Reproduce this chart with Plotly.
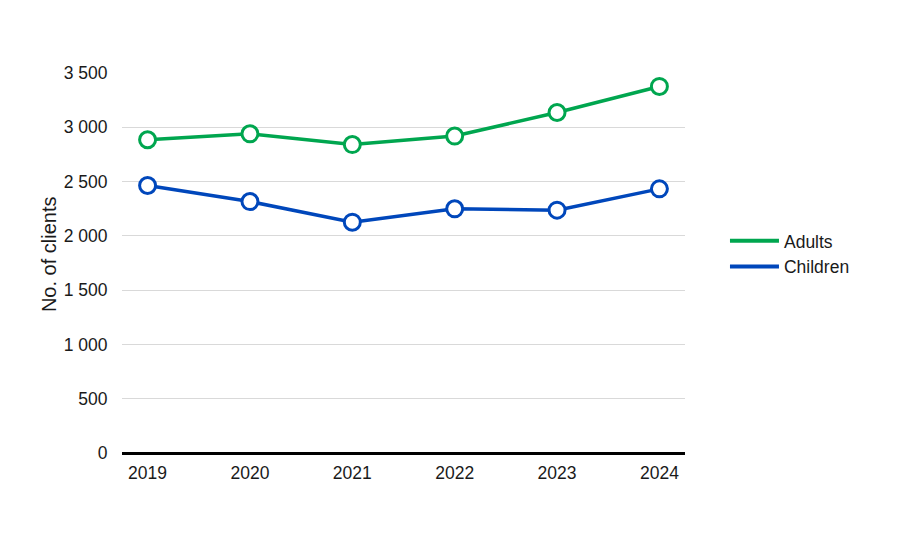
import plotly.graph_objects as go

years = ["2019", "2020", "2021", "2022", "2023", "2024"]
adults = [2885, 2940, 2841, 2919, 3136, 3376]
children = [2464, 2316, 2126, 2249, 2237, 2433]
y_ticks = [0, 500, 1000, 1500, 2000, 2500, 3000, 3500]

GREEN = "#00a64f"
BLUE = "#0047bb"
FONT = "Liberation Sans, Arial, sans-serif"
TXT = "#1a1a1a"

fig = go.Figure()
for name, vals, col in [("Adults", adults, GREEN), ("Children", children, BLUE)]:
    fig.add_trace(go.Scatter(
        x=years, y=vals, name=name, mode="lines+markers", showlegend=False,
        line=dict(color=col, width=3.5),
        marker=dict(symbol="circle", size=16, color="white", line=dict(color=col, width=3)),
    ))
    # legend entry drawn as a plain line
    fig.add_trace(go.Scatter(
        x=[None], y=[None], name=name, mode="lines",
        line=dict(color=col, width=4), showlegend=True,
    ))

fig.update_layout(
    width=920, height=536,
    margin=dict(l=114, r=243, t=65, b=91),
    paper_bgcolor="white", plot_bgcolor="white",
    font=dict(family=FONT, size=17.5, color=TXT),
    separators=". ",
    showlegend=True,
    legend=dict(x=1.071, y=0.524, xanchor="left", yanchor="middle",
                font=dict(size=17.5, color=TXT), tracegroupgap=0,
                itemwidth=49),
    xaxis=dict(type="category", range=[-0.25, 5.25], showgrid=False,
               showline=False, zeroline=False, ticks="outside", ticklen=4,
               tickcolor="rgba(0,0,0,0)", tickfont=dict(size=17.5, color=TXT)),
    yaxis=dict(range=[0, 3500], tickvals=y_ticks, tickformat=",d",
               showgrid=True, gridcolor="#d9d9d9", gridwidth=1,
               zeroline=True, zerolinecolor="black", zerolinewidth=2.5,
               showline=False, ticks="outside", ticklen=10,
               tickcolor="rgba(0,0,0,0)", tickfont=dict(size=17.5, color=TXT)),
    annotations=[dict(text="No. of clients", textangle=-90, showarrow=False,
                      xref="paper", yref="paper", x=-0.1295, y=0.5237,
                      xanchor="center", yanchor="middle",
                      font=dict(size=20, color=TXT))],
)

fig.write_html("out.html")
